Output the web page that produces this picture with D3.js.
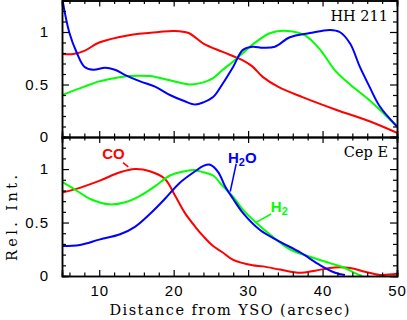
<!DOCTYPE html>
<html lang="en">
<head>
  <meta charset="UTF-8">
  <title>HH 211 / Cep E</title>
  <script src="https://cdn.jsdelivr.net/npm/d3@7/dist/d3.min.js"></script>
  <style>
    body { margin: 0; background: #fff; }
    svg { display: block; }
    .tick text { font-family: "Liberation Sans", Arial, sans-serif; font-size: 15px; fill: #000; letter-spacing: 1px; }
    .serif { font-family: "DejaVu Serif", serif; font-size: 14.5px; fill: #000; }
    .lab { font-family: "Liberation Sans", Arial, sans-serif; font-weight: bold; font-size: 15px; }
    .curve { fill: none; stroke-width: 2; }
  </style>
</head>
<body>
  <script>
    // distance from YSO (arcsec) and relative intensity
    var hhX  = [5, 6, 7, 8, 9.2, 10.8, 12.1, 13.5, 15.5, 17.5, 19.5, 21.5, 22.9, 24, 25.3, 26.6, 28, 29.3, 30.6, 32, 33.6, 35.6, 38.3, 41, 42.3, 43.7, 45, 46.3, 47.7, 50];
    var hhH2O = [1.33, 0.99, 0.80, 0.67, 0.64, 0.66, 0.64, 0.59, 0.53, 0.48, 0.40, 0.34, 0.31, 0.33, 0.38, 0.51, 0.67, 0.83, 0.86, 0.85, 0.86, 0.95, 0.99, 1.02, 1.00, 0.89, 0.67, 0.48, 0.29, 0.10];
    var hhCOx = [5, 6.5, 8, 10, 14, 18, 20, 22, 24, 26.6, 29.3, 30.6, 32, 34, 37.3, 41.8, 46.3, 50];
    var hhCO  = [0.79, 0.79, 0.82, 0.9, 0.97, 1.0, 1.01, 0.99, 0.89, 0.81, 0.73, 0.67, 0.57, 0.48, 0.38, 0.26, 0.15, 0.04];
    var hhH2x = [5, 8, 10, 12, 14, 16.8, 19.5, 22.2, 24, 25.3, 26.6, 28, 29.3, 30.6, 33, 35.3, 37.6, 39.7, 41.6, 43.7, 46.3, 50];
    var hhH2  = [0.40, 0.48, 0.53, 0.56, 0.58, 0.58, 0.54, 0.50, 0.52, 0.56, 0.64, 0.72, 0.80, 0.88, 0.99, 1.01, 0.97, 0.83, 0.64, 0.50, 0.35, 0.10];

    var ceCOx = [5, 6.7, 10, 12.8, 14.8, 16.8, 18.8, 20.2, 21.5, 22.9, 24, 25.3, 26.6, 28, 30.6, 32, 34.3, 37, 39, 41.6, 43.7, 45.7, 47.7, 50];
    var ceCO  = [0.78, 0.81, 0.89, 0.97, 1.0, 0.98, 0.91, 0.75, 0.59, 0.46, 0.37, 0.28, 0.22, 0.15, 0.10, 0.09, 0.06, 0.03, 0.05, 0.08, 0.075, 0.04, 0.01, 0.02];
    var ceH2Ox = [5, 7.4, 10, 12.8, 14.8, 16.8, 18.8, 20.8, 22.9, 24, 24.9, 26, 26.9, 28, 29.3, 31.6, 34.3, 37, 39.7, 41.7, 43];
    var ceH2O  = [0.28, 0.29, 0.34, 0.39, 0.46, 0.58, 0.72, 0.87, 0.98, 1.03, 1.04, 0.97, 0.84, 0.72, 0.59, 0.43, 0.32, 0.22, 0.10, 0.03, 0.01];
    var ceH2x = [5, 6.7, 8.8, 11.4, 13.5, 15.5, 17.5, 19.5, 21.5, 22.9, 24, 25.3, 26.6, 28, 29.3, 30.9, 32.9, 35.6, 38.3, 41, 43, 44.3, 45.3];
    var ceH2  = [0.88, 0.81, 0.72, 0.67, 0.69, 0.75, 0.84, 0.94, 0.98, 0.99, 0.97, 0.94, 0.84, 0.74, 0.62, 0.51, 0.39, 0.25, 0.18, 0.12, 0.075, 0.03, 0.0];

    var yTickLabels = [0, 0.5, 1];
    var xTickLabels = [10, 20, 30, 40, 50];

    var W = 407, H = 320;
    var svg = d3.select("body").append("svg").attr("width", W).attr("height", H);

    var x = d3.scaleLinear().domain([5, 50]).range([62, 397]);
    var yTop = d3.scaleLinear().domain([0, 1.3]).range([137, 0.5]);
    var yBot = d3.scaleLinear().domain([0, 1.3]).range([276, 137]);

    var xMinor = d3.range(6, 50, 2).filter(v => v % 10 != 0);
    var yMinor = d3.range(0.1, 1.3, 0.1).filter(v => Math.abs(v - 0.5) > 0.01 && Math.abs(v - 1) > 0.01);

    function zip(xs, ys) { return xs.map((v, i) => [v, ys[i]]); }

    function panel(y, name, series, showXLabels, clipId) {
      var g = svg.append("g");
      var top = y.range()[1], bot = y.range()[0];

      svg.append("clipPath").attr("id", clipId)
        .append("rect").attr("x", x(5)).attr("y", top).attr("width", x(50) - x(5)).attr("height", bot - top);

      var line = d3.line().x(d => x(d[0])).y(d => y(d[1])).curve(d3.curveCatmullRom.alpha(0.5));
      series.forEach(s => {
        g.append("path").attr("class", "curve").attr("clip-path", "url(#" + clipId + ")")
          .attr("stroke", s.color).attr("d", line(zip(s.x, s.y)));
      });

      // frame with inward ticks, major + minor
      function axes(vals, size, labels) {
        g.append("g").attr("transform", "translate(0," + bot + ")")
          .call(d3.axisBottom(x).tickValues(vals).tickSize(-size).tickPadding(9).tickFormat(labels ? d3.format("d") : ""));
        g.append("g").attr("transform", "translate(0," + top + ")")
          .call(d3.axisTop(x).tickValues(vals).tickSize(-size).tickFormat(""));
      }
      axes(xTickLabels, 6, showXLabels);
      axes(xMinor, 3.5, false);

      g.append("g").attr("transform", "translate(" + x(5) + ",0)")
        .call(d3.axisLeft(y).tickValues(yTickLabels).tickSize(-7).tickPadding(13).tickFormat(d3.format("")));
      g.append("g").attr("transform", "translate(" + x(5) + ",0)")
        .call(d3.axisLeft(y).tickValues(yMinor).tickSize(-4).tickFormat(""));
      g.append("g").attr("transform", "translate(" + x(50) + ",0)")
        .call(d3.axisRight(y).tickValues(yTickLabels).tickSize(-7).tickFormat(""));
      g.append("g").attr("transform", "translate(" + x(50) + ",0)")
        .call(d3.axisRight(y).tickValues(yMinor).tickSize(-4).tickFormat(""));

      g.selectAll(".domain").attr("stroke", "#000").attr("stroke-width", 1.5);
      g.selectAll(".tick line").attr("stroke", "#000").attr("stroke-width", 1.2);

      g.append("text").attr("class", "serif")
        .attr("x", x(50) - 9).attr("y", top + 20).attr("text-anchor", "end").text(name);
      return g;
    }

    var red = "#ff0000", blue = "#0000ff", green = "#00ff00";

    panel(yTop, "HH 211", [
      { x: hhCOx, y: hhCO, color: red },
      { x: hhH2x, y: hhH2, color: green },
      { x: hhX, y: hhH2O, color: blue }
    ], false, "clipTop");

    panel(yBot, "Cep E", [
      { x: ceCOx, y: ceCO, color: red },
      { x: ceH2x, y: ceH2, color: green },
      { x: ceH2Ox, y: ceH2O, color: blue }
    ], true, "clipBot");

    // line labels with leaders (data coordinates)
    var labels = [
      { t: "CO", sub: "", x: 10.4, y: 1.09, color: red, lx: [13.2, 13.9], ly: [1.06, 1.02] },
      { t: "H", sub: "2", rest: "O", x: 27.3, y: 1.06, color: blue, lx: [28.4, 27.6], ly: [1.05, 0.79] },
      { t: "H", sub: "2", x: 33.05, y: 0.60, color: green, lx: [33.1, 31.0], ly: [0.58, 0.50] }
    ];
    labels.forEach(l => {
      var t = svg.append("text").attr("class", "lab").attr("fill", l.color)
        .attr("x", x(l.x)).attr("y", yBot(l.y)).text(l.t);
      if (l.sub) {
        t.append("tspan").attr("font-size", "11px").attr("dy", 3).text(l.sub);
        if (l.rest) t.append("tspan").attr("dy", -3).text(l.rest);
      }
      svg.append("line").attr("stroke", l.color).attr("stroke-width", 1.5)
        .attr("x1", x(l.lx[0])).attr("y1", yBot(l.ly[0]))
        .attr("x2", x(l.lx[1])).attr("y2", yBot(l.ly[1]));
    });

    svg.append("text").attr("class", "serif")
      .attr("x", (x(5) + x(50)) / 2).attr("y", 315).attr("text-anchor", "middle")
      .attr("textLength", 240).text("Distance from YSO (arcsec)");

    svg.append("text").attr("class", "serif")
      .attr("transform", "translate(17," + 218 + ") rotate(-90)")
      .attr("text-anchor", "middle").attr("textLength", 86).text("Rel. Int.");
  </script>
</body>
</html>
